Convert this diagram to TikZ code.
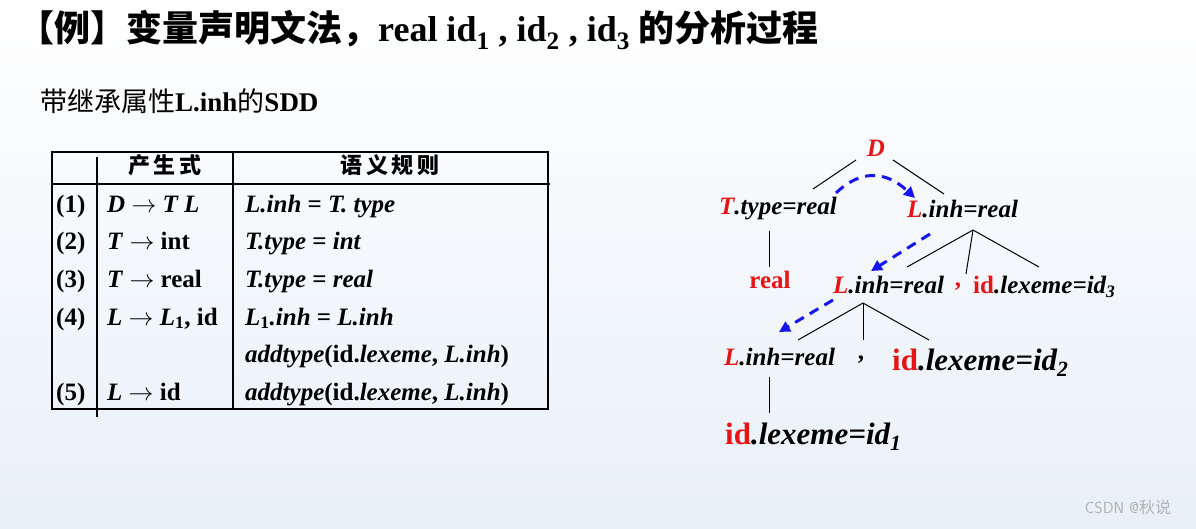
\documentclass[tikz,border=0pt]{standalone}
\usepackage{fontspec}
\setmainfont{Liberation Serif}
\newfontfamily\cjk{Noto Sans CJK SC}
\usetikzlibrary{arrows.meta}
\definecolor{rd}{RGB}{230,20,20}
\definecolor{bl}{RGB}{20,20,240}
\tikzset{
 tx/.style={inner sep=0pt,anchor=base west,font=\fontsize{25}{28}\selectfont\bfseries},
 tr/.style={inner sep=0pt,font=\fontsize{25}{28}\selectfont\bfseries},
 tb/.style={inner sep=0pt,font=\fontsize{31}{34}\selectfont\bfseries},
 br/.style={line width=1pt},
 dep/.style={bl,line width=3pt,dash pattern=on 10pt off 7pt,-{Triangle[length=11pt,width=11pt]}},
}
\newcommand{\R}[1]{\textcolor{rd}{#1}}
\begin{document}
\begin{tikzpicture}[x=1pt,y=-1pt]
\useasboundingbox (0,0) rectangle (1196,528);
\fill[top color=white,bottom color={rgb,255:red,232;green,240;blue,248}] (0,0) rectangle (1196,528);
% title
\node[anchor=west,inner sep=0pt,font=\fontsize{36}{40}\selectfont\bfseries] (title) at (18,30) {{\cjk\bfseries 【例】变量声明文法，}real id\textsubscript{1} , id\textsubscript{2} , id\textsubscript{3} {\cjk\bfseries 的分析过程}};
\node[anchor=west,inner sep=0pt,font=\fontsize{27}{30}\selectfont] (sub) at (40,101) {{\cjk 带继承属性}\textbf{L.inh}{\cjk 的}\textbf{SDD}};
% table
\draw[line width=1.5pt] (52,152) rectangle (548,409);
\draw[line width=1.5pt] (52,184) -- (550,184);
\draw[line width=1.5pt] (97,157) -- (97,417);
\draw[line width=1.5pt] (233,152) -- (233,409);
\node[inner sep=0pt,font=\fontsize{22}{24}\selectfont\cjk\bfseries] (h1) at (165,165) {产\,生\,式};
\node[inner sep=0pt,font=\fontsize{22}{24}\selectfont\cjk\bfseries] (h2) at (390,165) {语\,义\,规\,则};
\foreach \n/\y in {1/212,2/249,3/287,4/325,5/400}{\node[tx] (n\n) at (56,\y) {(\n)};}
\node[tx] (p1) at (107,212) {\textit{D} $\rightarrow$ \textit{T L}};
\node[tx] (p2) at (107,249) {\textit{T} $\rightarrow$ int};
\node[tx] (p3) at (107,287) {\textit{T} $\rightarrow$ real};
\node[tx] (p4) at (107,325) {\textit{L} $\rightarrow$ \textit{L}\textsubscript{1}, id};
\node[tx] (p5) at (107,400) {\textit{L} $\rightarrow$ id};
\node[tx] (r1) at (245,212) {\textit{L.inh} = \textit{T. type}};
\node[tx] (r2) at (245,249) {\textit{T.type} = \textit{int}};
\node[tx] (r3) at (245,287) {\textit{T.type} = \textit{real}};
\node[tx] (r4) at (245,325) {\textit{L}\textsubscript{1}\textit{.inh} = \textit{L.inh}};
\node[tx] (r4b) at (245,362) {\textit{addtype}(id.\textit{lexeme}, \textit{L.inh})};
\node[tx] (r5) at (245,400) {\textit{addtype}(id.\textit{lexeme}, \textit{L.inh})};
% tree
\node[tr] (D) at (876,148) {\R{\textit{D}}};
\node[tr,anchor=west] (T) at (719,209) {\textit{\R{T}.type=real}};
\node[tr,anchor=west] (L0) at (907,209) {\textit{\R{L}.inh=real}};
\node[tr,text=rd] (real) at (770,280) {real};
\node[tr,anchor=west] (L1) at (833,285) {\textit{\R{L}.inh=real}};
\node[tr,text=rd] (c1) at (958,287) {,};
\node[tr,anchor=west] (id3) at (973,287) {\R{id}\textit{.lexeme=id\textsubscript{3}}};
\node[tr,anchor=west] (L2) at (724,357) {\textit{\R{L}.inh=real}};
\node[tr] (c2) at (861,360) {,};
\node[tb,anchor=west] (id2) at (892,363) {\R{id}\textit{.lexeme=id\textsubscript{2}}};
\node[tb,anchor=west] (id1) at (725,437) {\R{id}\textit{.lexeme=id\textsubscript{1}}};
\coordinate (Dl) at (856,160); \coordinate (Dr) at (893,160);
\coordinate (Ta) at (813,189); \coordinate (La) at (944,194);
\draw[br] (Dl) -- (Ta); \draw[br] (Dr) -- (La);
\draw[br] (769,231) -- (769,267);
\coordinate (L0b) at (973,230);
\draw[br] (L0b) -- (907,267); \draw[br] (L0b) -- (966,274); \draw[br] (L0b) -- (1039,267);
\coordinate (L1b) at (863,303);
\draw[br] (L1b) -- (798,340); \draw[br] (L1b) -- (863,340); \draw[br] (L1b) -- (929,340);
\draw[br] (769,377) -- (769,413);
\draw[dep] (836,193) .. controls (860,170) and (885,170) .. (915,198);
\draw[dep] (930,234) -- (871,271);
\draw[dep] (833,300) -- (779,332);
\node[inner sep=0pt,text=gray!60,font=\fontsize{16}{18}\selectfont\sffamily] (wm) at (1128,507) {CSDN @{\cjk 秋说}};
\end{tikzpicture}
\end{document}
